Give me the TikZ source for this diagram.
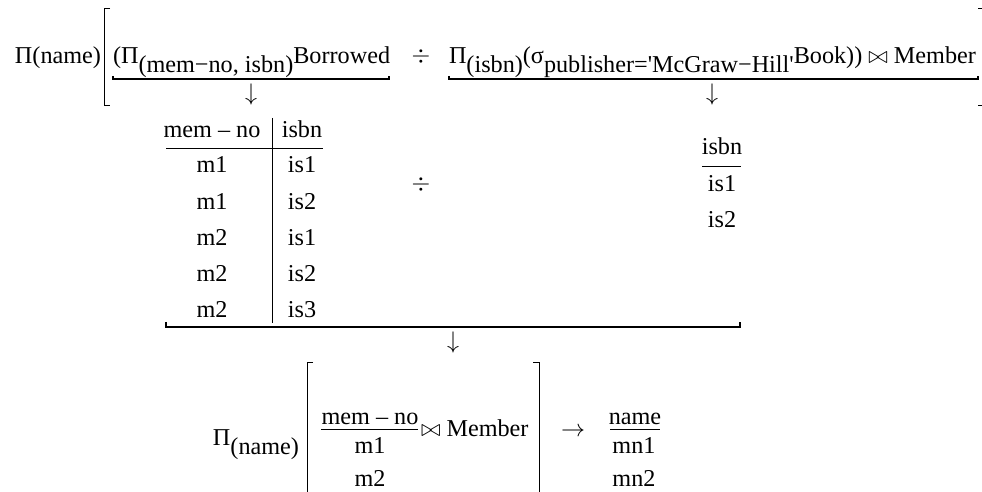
\documentclass[tikz,border=0pt]{standalone}
\usepackage{fontspec}
\setmainfont{Liberation Serif}
\usetikzlibrary{positioning}
\newcommand{\dn}[1]{\raisebox{-4.5pt}{#1}}

\begin{document}
\begin{tikzpicture}[x=0.5pt,y=-0.5pt,every node/.style={inner sep=0pt, outer sep=0pt, font=\fontsize{12.1}{14}\selectfont},
  rule/.style={line width=0.7pt},
  brk/.style={line width=0.5pt},
  txt/.style={anchor=base west},
  cell/.style={anchor=base}]
\useasboundingbox (0,0) rectangle (982,492);
% first line
\node[txt] (projname) at (15,64) {Π(name)};
\node[txt] (borrowed) at (113,64) {(Π\dn{(mem−no, isbn)}Borrowed};
\node (divtop) at (421,57) {$\div$};
\node[txt] (bookjoin) at (449,64) {Π\dn{(isbn)}(σ\dn{publisher=\textquotesingle McGraw−Hill\textquotesingle}Book)) $\bowtie$ Member};
\draw[brk] (110,9) -- (104,9) -- (104,106) -- (110,106);
\draw[brk] (978,9) -- (984,9) -- (984,106) -- (978,106);
\draw[rule] (113,76) -- (113,79) -- (389,79) -- (389,76);
\draw[rule] (449,76) -- (449,79) -- (978,79) -- (978,76);
\node (down1) at (251,95) {$\downarrow$};
\node (down2) at (712,95) {$\downarrow$};
% borrowed table
\node[cell] (memhead) at (212,138) {mem – no};
\node[cell] (isbnhead) at (302,138) {isbn};
\foreach \y/\a/\b [count=\k] in {173/m1/is1,210/m1/is2,246/m2/is1,282/m2/is2,318/m2/is3} {
\node[cell] (mem\k) at (212,\y) {\a};
\node[cell] (isb\k) at (302,\y) {\b};
}
\draw[brk] (166,149) -- (323,149);
\draw[brk] (272,118) -- (272,323);
\node (divmid) at (421,185) {$\div$};
% book table
\node[cell] (bookhead) at (722,155) {isbn};
\node[cell] (book1) at (722,192) {is1};
\node[cell] (book2) at (722,228) {is2};
\draw[brk] (702,167) -- (741,167);
\draw[rule] (166,322) -- (166,327) -- (740,327) -- (740,322);
\node (down3) at (453,343) {$\downarrow$};
% last line
\node[txt] (projlast) at (213,445) {Π\dn{(name)}};
\draw[brk] (313,363) -- (307,363) -- (307,496);
\draw[brk] (533,363) -- (539,363) -- (539,496);
\node[cell] (reshead) at (370,424) {mem – no};
\node[cell] (res1) at (370,453) {m1};
\node[cell] (res2) at (370,487) {m2};
\draw[brk] (321,430) -- (418,430);
\node[txt] (memjoin) at (421,437) {$\bowtie$ Member};
\node (yields) at (573,432) {$\rightarrow$};
\node[cell] (namehead) at (635,424) {name};
\node[cell] (name1) at (634,453) {mn1};
\node[cell] (name2) at (634,487) {mn2};
\draw[brk] (610,430) -- (660,430);
\end{tikzpicture}
\end{document}
